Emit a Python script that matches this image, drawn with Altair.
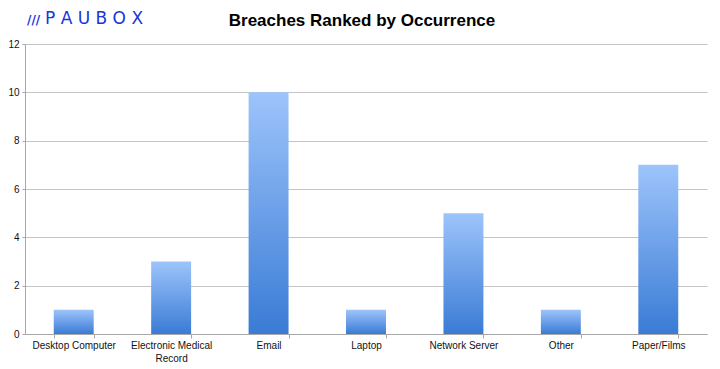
import altair as alt
import pandas as pd

categories = ["Desktop Computer", "Electronic Medical Record", "Email", "Laptop",
              "Network Server", "Other", "Paper/Films"]
counts = [1, 3, 10, 1, 5, 1, 7]
y_ticks = [0, 2, 4, 6, 8, 10, 12]

title_text = "Breaches Ranked by Occurrence"
logo_text = "P A U B O X"

W, H = 682, 290
FONT = "Liberation Sans"

df = pd.DataFrame({"category": categories, "count": counts})

grad = alt.Gradient(
    gradient="linear",
    stops=[alt.GradientStop(color="#9dc4fb", offset=0),
           alt.GradientStop(color="#3a7bd5", offset=1)],
    x1=0, x2=0, y1=0, y2=1,
)

bars = alt.Chart(df).mark_bar(color=grad).encode(
    x=alt.X("category:N", sort=categories, title=None,
            scale=alt.Scale(paddingInner=0.59, paddingOuter=0.295),
            axis=alt.Axis(labelAngle=0, tickBand="extent", tickSize=4, labelPadding=2,
                          domainColor="#a8a8a8", tickColor="#a8a8a8",
                          labelFont=FONT, labelFontSize=10, labelColor="#111",
                          labelLineHeight=13,
                          labelExpr="datum.label == 'Electronic Medical Record' ? ['Electronic Medical', 'Record'] : datum.label")),
    y=alt.Y("count:Q", title=None,
            scale=alt.Scale(domain=[0, 12], nice=False),
            axis=alt.Axis(values=y_ticks, tickSize=3, labelPadding=3,
                          domainColor="#a8a8a8", tickColor="#a8a8a8",
                          gridColor="#c4c4c4", gridWidth=1,
                          labelFont=FONT, labelFontSize=10, labelColor="#111")),
)

logo = alt.Chart(pd.DataFrame({"t": [logo_text]})).mark_text(
    align="left", baseline="alphabetic", font="DejaVu Sans", fontSize=17,
    fontWeight="normal", color="#1a35d8",
).encode(text="t:N", x=alt.value(20), y=alt.value(-20))

marks = alt.Chart(pd.DataFrame({"t": ["///"]})).mark_text(
    align="left", baseline="alphabetic", font="DejaVu Sans", fontSize=12,
    fontWeight="bold", color="#1a35d8",
).encode(text="t:N", x=alt.value(2), y=alt.value(-20))

title = alt.Chart(pd.DataFrame({"t": [title_text]})).mark_text(
    align="center", baseline="alphabetic", font=FONT, fontSize=17,
    fontWeight="bold", color="#000",
).encode(text="t:N", x=alt.value(337), y=alt.value(-18))

chart = alt.layer(bars, logo, marks, title).properties(
    width=W, height=H,
    autosize=alt.AutoSizeParams(type="none"),
    padding={"left": 17, "top": 36, "right": 5, "bottom": 35},
    background="white",
).configure_view(stroke=None)

chart.save("out.html", embed_options={"renderer": "svg", "actions": False})
